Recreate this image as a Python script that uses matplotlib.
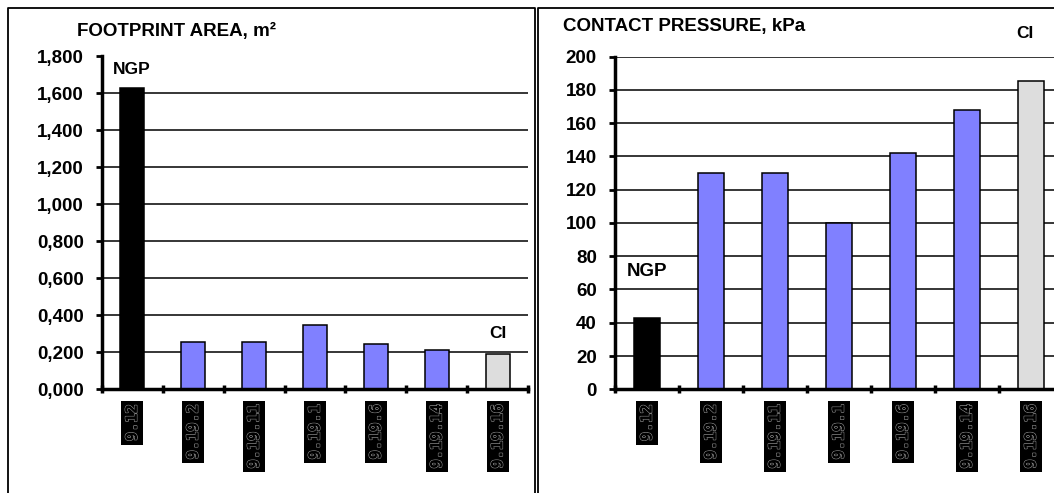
import matplotlib.pyplot as plt
import matplotlib.patheffects as pe
from matplotlib.lines import Line2D

plt.rcParams['font.family'] = ['Liberation Sans', 'DejaVu Sans']
plt.rcParams['font.weight'] = 'bold'

# data
labels = ['9.12', '9.19.2', '9.19.11', '9.19.1', '9.19.6', '9.19.14', '9.19.16']
area = [1.63, 0.255, 0.255, 0.35, 0.245, 0.21, 0.19]
pressure = [43, 130, 130, 100, 142, 168, 185]
colors = ['#000000', '#8080ff', '#8080ff', '#8080ff', '#8080ff', '#8080ff', '#dddddd']
area_ticks = [0.2 * i for i in range(10)]
pressure_ticks = list(range(0, 201, 20))

W, H = 1054, 493
fig = plt.figure(figsize=(W / 100, H / 100), dpi=100)


def px_axes(x0, x1, y0, y1):
    return fig.add_axes([x0 / W, 1 - y1 / H, (x1 - x0) / W, (y1 - y0) / H])


def draw_panel(ax, values, ticks, fmt, tick_size):
    x = list(range(len(values)))
    ax.set_axisbelow(True)
    for t in ticks:
        ax.axhline(t, color='black', lw=1.1, zorder=0)
    ax.bar(x, values, width=0.4, color=colors, edgecolor='black', lw=1.1, zorder=2)
    ax.set_xlim(-0.5, len(values) - 0.5)
    ax.set_ylim(0, ticks[-1])
    ax.set_yticks(ticks)
    ax.set_yticklabels([fmt(t) for t in ticks], fontsize=tick_size, fontweight='bold')
    ax.tick_params(axis='y', direction='out', length=4, width=2, pad=9)
    ax.set_xticks([i - 0.5 for i in range(len(values) + 1)], minor=True)
    ax.set_xticks(x)
    ax.set_xticklabels(labels, rotation=90, fontsize=11, color='black',
                       family='DejaVu Sans Mono', va='top')
    ax.tick_params(axis='x', which='major', length=0, pad=11)
    ax.tick_params(axis='x', which='minor', direction='inout', length=6, width=2.5)
    for lab in ax.get_xticklabels():
        lab.set_bbox(dict(facecolor='black', edgecolor='none', pad=2.5))
        lab.set_path_effects([pe.withStroke(linewidth=1.1, foreground='#8a8a8a'),
                              pe.Normal()])
    for s in ['top', 'right']:
        ax.spines[s].set_visible(False)
    for s in ['left', 'bottom']:
        ax.spines[s].set_linewidth(2.5)


ax1 = px_axes(101.7, 528.3, 56.5, 389.3)
draw_panel(ax1, area, area_ticks, lambda v: f'{v:.3f}'.replace('.', ','), 13.5)
ax1.text(0, 1.73, 'NGP', ha='center', va='center', fontsize=12.5, fontweight='bold')
ax1.text(6, 0.30, 'CI', ha='center', va='center', fontsize=12.5, fontweight='bold')

ax2 = px_axes(615, 1063, 56.5, 389.3)
draw_panel(ax2, pressure, pressure_ticks, lambda v: f'{v}', 13.5)
ax2.text(0, 70.5, 'NGP', ha='center', va='center', fontsize=13.5, fontweight='bold')
ax2.text(5.9, 214, 'CI', ha='center', va='center', fontsize=12.5,
         fontweight='bold', clip_on=False)

fig.text(77 / W, 1 - 31 / H, 'FOOTPRINT AREA, m²', ha='left', va='center',
         fontsize=13.5, fontweight='bold')
fig.text(563 / W, 1 - 26 / H, 'CONTACT PRESSURE, kPa', ha='left', va='center',
         fontsize=13.5, fontweight='bold')

# panel frames
def frame_line(xs, ys):
    fig.add_artist(Line2D([x / W for x in xs], [1 - y / H for y in ys],
                          color='black', lw=1.3, transform=fig.transFigure))


frame_line([8, 8, 535, 535], [H + 5, 8, 8, H + 5])
frame_line([538, 538, W + 5], [H + 5, 8, 8])

fig.savefig('out.png', dpi=100)
